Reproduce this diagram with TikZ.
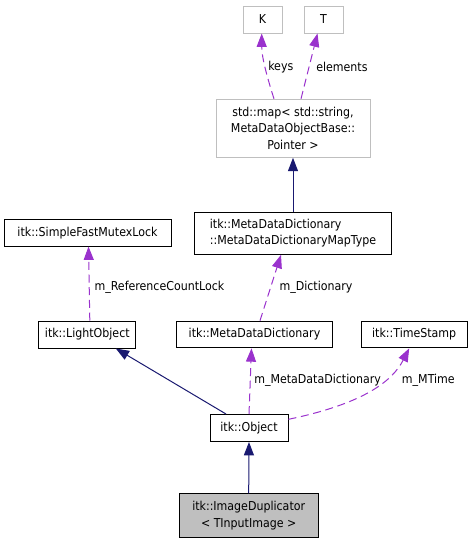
\documentclass[tikz,border=0pt]{standalone}
\usepackage{fontspec}
\setmainfont{DejaVu Sans Condensed}
\usetikzlibrary{arrows.meta,calc}
\definecolor{navy}{HTML}{191970}
\definecolor{orchid}{HTML}{9A32CD}
\definecolor{gbord}{HTML}{BFBFBF}
\begin{document}
\begin{tikzpicture}[x=0.75pt,y=-0.75pt,
  font=\fontsize{9.2}{12.4}\selectfont,
  box/.style={draw=black, line width=0.75pt, rectangle, inner sep=0pt, align=center},
  gbox/.style={box, draw=gbord},
  inh/.style={draw=navy, line width=0.75pt, -{Triangle[length=10pt,width=7.5pt,fill=navy]}},
  use/.style={draw=orchid, line width=0.75pt, dash pattern=on 6pt off 3.5pt, -{Triangle[length=10pt,width=7.5pt,fill=orchid]}},
  lab/.style={anchor=west, inner sep=0pt}]
\useasboundingbox (0,0) rectangle (473,544);
% nodes
\node[gbox, minimum width=29.25pt, minimum height=20.25pt] (k) at (262.5,19.5) {K};
\node[gbox, minimum width=29.25pt, minimum height=20.25pt] (t) at (323.5,19.5) {T};
\node[gbox, minimum width=115.5pt, minimum height=43.5pt] (map) at (293,128.3) {std::map\textless{} std::string,\\MetaDataObjectBase::\\Pointer \textgreater{}};
\node[box, align=left, minimum width=148pt, minimum height=31.7pt] (mt) at (293,233.2) {itk::MetaDataDictionary\\::MetaDataDictionaryMapType};
\node[box, minimum width=125.25pt, minimum height=20pt] (sfml) at (87.5,232.7) {itk::SimpleFastMutexLock};
\node[box, minimum width=73pt, minimum height=20.25pt] (light) at (87.3,334.5) {itk::LightObject};
\node[box, minimum width=116.7pt, minimum height=20pt] (mdd) at (254.5,334.5) {itk::MetaDataDictionary};
\node[box, minimum width=79.7pt, minimum height=20pt] (ts) at (414.2,334.5) {itk::TimeStamp};
\node[box, minimum width=58.5pt, minimum height=20.25pt] (obj) at (249,428) {itk::Object};
\node[box, fill=gbord, minimum width=104.5pt, minimum height=32.6pt] (dup) at (248.7,515.7) {itk::ImageDuplicator\\\textless{} TInputImage \textgreater{}};
% connectors
\draw[use] ($(map.north)+(-19,0)$) .. controls (268,80) and (261.7,58) .. ($(k.south)+(-0.8,0)$);
\draw[use] ($(map.north)+(8,0)$) -- ($(t.south)+(-6,0)$);
\draw[inh] (mt.north) -- (map.south);
\draw[use] ($(light.north)+(2.5,0)$) -- ($(sfml.south)+(1,0)$);
\draw[use] ($(mdd.north)+(5.5,0)$) -- ($(mt.south)+(-12,0)$);
\draw[inh] ($(obj.north)+(-23,0)$) -- ($(light.south)+(28.5,0)$);
\draw[use] (obj.north) -- ($(mdd.south)+(-3,0)$);
\draw[use] ($(obj.east)+(0,-8.7)$) .. controls (362,404) and (392,382) .. ($(ts.south)+(-5,0)$);
\draw[inh] (dup.north) -- (obj.south);
% labels
\node[lab] (lkeys) at (268,66.7) {keys};
\node[lab] (lelem) at (316,66.5) {elements};
\node[lab] (lrcl) at (94.3,287.3) {m\_ReferenceCountLock};
\node[lab] (ldict) at (279.3,287.7) {m\_Dictionary};
\node[lab] (lmdd) at (254,380.7) {m\_MetaDataDictionary};
\node[lab] (lmt) at (401.7,380.7) {m\_MTime};
\end{tikzpicture}
\end{document}
